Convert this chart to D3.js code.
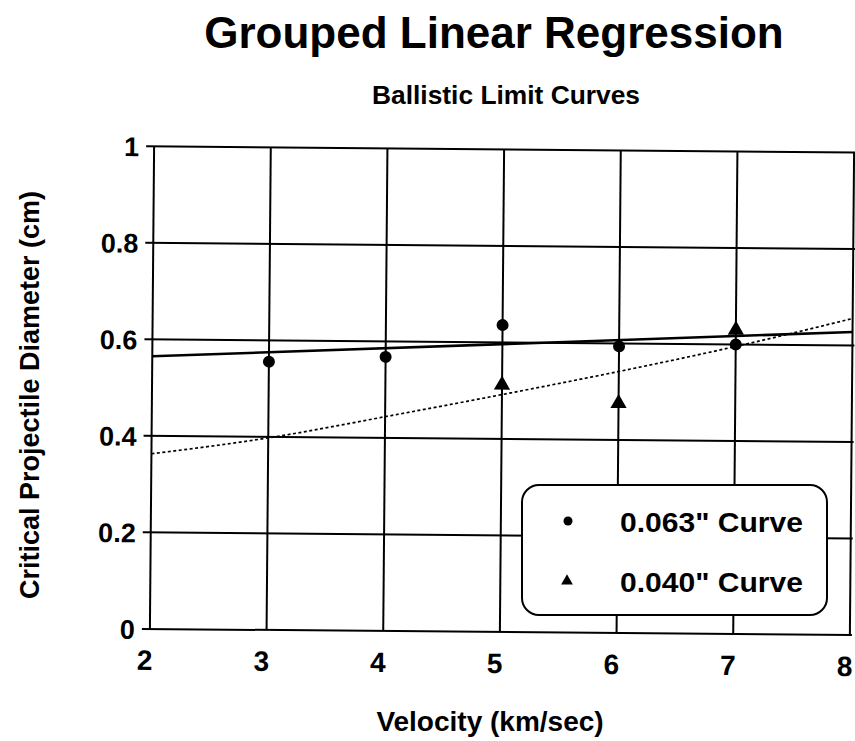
<!DOCTYPE html>
<html><head><meta charset="utf-8">
<script src="https://cdn.jsdelivr.net/npm/d3@7"></script>
<style>
html,body{margin:0;padding:0;background:#fff;}
text{font-family:"Liberation Sans",Arial,Helvetica,sans-serif;font-weight:bold;fill:#000;}
</style></head>
<body><svg id="c" width="855" height="741"></svg>
<script>
const xTicks = [2,3,4,5,6,7,8];
const yTicks = [0,0.2,0.4,0.6,0.8,1];
const yTickLabels = ["0","0.2","0.4","0.6","0.8","1"];
// 0.063" curve data points
const vel063 = [3,4,5,6,7];
const dia063 = [0.556,0.568,0.636,0.594,0.600];
// 0.040" curve data points
const vel040 = [5,6,7];
const dia040 = [0.512,0.476,0.630];
// regression line for 0.063"
const fitVel063 = [2,8];
const fitDia063 = [0.565,0.628];
// fitted curve for 0.040" (dotted)
const fitVel040 = [2,3,4,5,6,7,8];
const fitDia040 = [0.363,0.398,0.444,0.492,0.542,0.596,0.656];
const legendLabels = ['0.063" Curve','0.040" Curve'];

const svg = d3.select("#c");
const x = d3.scaleLinear().domain([2,8]).range([152,852]);
const y = d3.scaleLinear().domain([0,1]).range([632,149.4]);

svg.append("text").attr("x",494).attr("y",48).attr("text-anchor","middle")
  .style("font-size","44px").text("Grouped Linear Regression");
svg.append("text").attr("x",506).attr("y",104).attr("text-anchor","middle")
  .style("font-size","26px").attr("textLength",268).attr("lengthAdjust","spacingAndGlyphs")
  .text("Ballistic Limit Curves");

// scanned original is tilted slightly clockwise
const g = svg.append("g").attr("transform","rotate(0.5,500,390)");
// horizontal gridlines with left tick
g.selectAll("line.h").data(yTicks).enter().append("line")
  .attr("x1",x(2)-8).attr("x2",x(8)+2).attr("y1",d=>y(d)).attr("y2",d=>y(d))
  .attr("stroke","#000").attr("stroke-width",2);
// vertical gridlines
g.selectAll("line.v").data(xTicks).enter().append("line")
  .attr("x1",d=>x(d)).attr("x2",d=>x(d)).attr("y1",y(1)).attr("y2",y(0))
  .attr("stroke","#000").attr("stroke-width",2);

// y tick labels
g.selectAll("text.yt").data(yTicks).enter().append("text")
  .attr("x",137).attr("y",d=>y(d)+10).attr("text-anchor","end")
  .style("font-size","27px").text((d,i)=>yTickLabels[i]);
// x tick labels
g.selectAll("text.xt").data(xTicks).enter().append("text")
  .attr("x",d=>x(d)-5).attr("y",673).attr("text-anchor","middle")
  .style("font-size","28px").text(d=>d);

svg.append("text").attr("x",490).attr("y",731).attr("text-anchor","middle")
  .style("font-size","28px").text("Velocity (km/sec)");
svg.append("text").attr("transform","translate(39,395) rotate(-90)").attr("text-anchor","middle")
  .style("font-size","27px").text("Critical Projectile Diameter (cm)");

// regression line
const line = d3.line().x(d=>x(d[0])).y(d=>y(d[1]));
g.append("path").datum(d3.zip(fitVel063,fitDia063)).attr("d",line)
  .attr("fill","none").attr("stroke","#000").attr("stroke-width",2.6);
// dotted curve
g.append("path").datum(d3.zip(fitVel040,fitDia040)).attr("d",line.curve(d3.curveMonotoneX))
  .attr("fill","none").attr("stroke","#000").attr("stroke-width",1.7).attr("stroke-dasharray","3,2.5");

// markers
g.selectAll("circle.p").data(d3.zip(vel063,dia063)).enter().append("circle")
  .attr("cx",d=>x(d[0])).attr("cy",d=>y(d[1])).attr("r",6).attr("fill","#000");
const tri = d3.symbol().type(d3.symbolTriangle).size(115);
g.selectAll("path.t").data(d3.zip(vel040,dia040)).enter().append("path")
  .attr("d",tri).attr("transform",d=>`translate(${x(d[0])},${y(d[1])})`).attr("fill","#000");

// legend
const lg = svg.append("g");
lg.append("rect").attr("x",522).attr("y",485).attr("width",305).attr("height",130)
  .attr("rx",17).attr("fill","#fff").attr("stroke","#000").attr("stroke-width",2);
lg.append("circle").attr("cx",568).attr("cy",521).attr("r",4.5).attr("fill","#000");
lg.append("path").attr("d",d3.symbol().type(d3.symbolTriangle).size(60))
  .attr("transform","translate(567,581)").attr("fill","#000");
lg.selectAll("text.l").data(legendLabels).enter().append("text")
  .attr("x",620).attr("y",(d,i)=>532+i*60).style("font-size","28px")
  .attr("textLength",183).attr("lengthAdjust","spacingAndGlyphs").text(d=>d);
</script></body></html>
